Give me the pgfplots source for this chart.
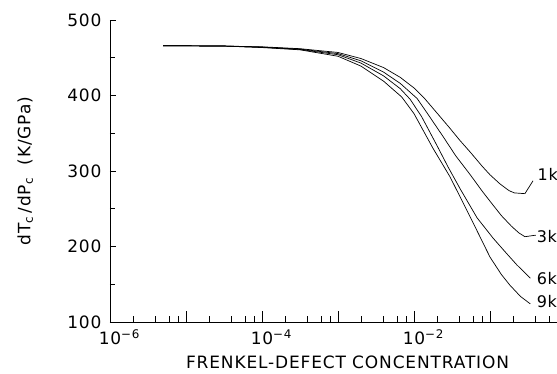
\documentclass[border=0pt]{standalone}
\usepackage{pgfplots}
\pgfplotsset{compat=1.18}
\usepackage{fontspec}
\setmainfont{DejaVu Sans}[LetterSpace=5]
\begin{document}
\begin{tikzpicture}
\begin{axis}[
  at={(0,0)}, anchor=south west,
  scale only axis, width=456pt, height=302pt,
  xmode=log, xmin=1e-6, xmax=1,
  ymin=100, ymax=500,
  axis x line*=bottom, axis y line*=left,
  axis line style={line width=0.8pt,-},
  tick align=inside,
  tick style={line width=0.6pt,black},
  major tick length=11pt, minor tick length=6pt,
  /pgf/number format/assume math mode=true,
  xtick={1e-6,1e-5,1e-4,1e-3,1e-2,1e-1,1},
  xticklabels={\mbox{10\rlap{\textsuperscript{−6}}},,\mbox{10\rlap{\textsuperscript{−4}}},,\mbox{10\rlap{\textsuperscript{−2}}},,},
  minor xtick={2e-6,4e-6,6e-6,8e-6,2e-5,4e-5,6e-5,8e-5,2e-4,4e-4,6e-4,8e-4,2e-3,4e-3,6e-3,8e-3,2e-2,4e-2,6e-2,8e-2,2e-1,4e-1,6e-1,8e-1},
  ytick={100,200,300,400,500},
  yticklabels={\mbox{100},\mbox{200},\mbox{300},\mbox{400},\mbox{500}},
  minor ytick={150,250,350,450},
  ytick style={/pgfplots/major tick length=6pt,/pgfplots/minor tick length=5pt},
  ticklabel style={font=\fontsize{17}{20}\selectfont},
  yticklabel style={xshift=-5pt},
  xticklabel style={yshift=-4pt},
  xlabel={FRENKEL-DEFECT CONCENTRATION},
  ylabel={dT\textsubscript{c}\,/dP\textsubscript{c}\ \ (K/GPa)},
  xlabel style={font=\fontsize{17}{20}\selectfont, at={(axis description cs:0.521,-0.132)}, anchor=center},
  ylabel style={font=\fontsize{17}{20}\selectfont, at={(axis description cs:-0.186,0.5)}, anchor=center},
  clip=false,
]
% 1 kbar
\addplot[black, line width=0.7pt] table {
x y
5e-6 466
3.16e-5 465.5
1e-4 464.5
3.16e-4 462
1e-3 457
2e-3 449
3.98e-3 437
6.6e-3 424
1e-2 410
1.38e-2 396
2e-2 377
2.95e-2 357
3.98e-2 341
5.5e-2 325
7.94e-2 306
1e-1 295
1.35e-1 283
1.78e-1 274
2.09e-1 271
2.88e-1 270
};
% 3 kbar
\addplot[black, line width=0.7pt] table {
x y
5e-6 466
3.16e-5 465.5
1e-4 464
3.16e-4 461.5
1e-3 455.5
2e-3 446
3.98e-3 431
6.6e-3 416
1.1e-2 396
1.58e-2 373
2.4e-2 346
3.55e-2 320
5.5e-2 295
7.94e-2 273
1e-1 260
1.41e-1 241
1.91e-1 227
2.4e-1 218
2.88e-1 213
};
% 6 kbar
\addplot[black, line width=0.7pt] table {
x y
5e-6 466
3.16e-5 465.5
1e-4 464
3.16e-4 461
1e-3 454
2e-3 443
3.98e-3 426
6.6e-3 409
8.9e-3 395
1.26e-2 372
2e-2 334
2.82e-2 305
4.07e-2 276
6.76e-2 238
1.1e-1 211
1.58e-1 193
2.24e-1 176
3.39e-1 158
};
% 9 kbar
\addplot[black, line width=0.7pt] table {
x y
5e-6 466
3.16e-5 465.5
1e-4 463.5
3.16e-4 460.5
1e-3 452
2e-3 439
3.98e-3 419
6.9e-3 398
1e-2 376
1.78e-2 330
2.95e-2 293
3.47e-2 279
5.5e-2 239
1e-1 186
1.41e-1 163
1.82e-1 149
2.51e-1 134
3.39e-1 124
};
% leader lines
\addplot[black, line width=0.7pt] table {
x y
2.88e-1 270
3.68e-1 287
};
\addplot[black, line width=0.7pt] table {
x y
2.88e-1 213
4.0e-1 215
};
\node[anchor=west, inner sep=0pt, font=\fontsize{16}{19}\selectfont] at (axis cs:0.42,295) {1k};
\node[anchor=west, inner sep=0pt, font=\fontsize{16}{19}\selectfont] at (axis cs:0.41,213) {3k};
\node[anchor=west, inner sep=0pt, font=\fontsize{16}{19}\selectfont] at (axis cs:0.41,158) {6k};
\node[anchor=west, inner sep=0pt, font=\fontsize{16}{19}\selectfont] at (axis cs:0.41,127) {9k};
\end{axis}
\pgfresetboundingbox
\path[use as bounding box] (-110pt,-51pt) rectangle (447pt,322pt);
\end{tikzpicture}
\end{document}
